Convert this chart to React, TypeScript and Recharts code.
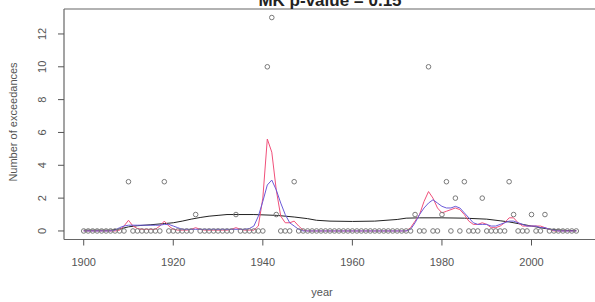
import React from 'react';
import { ComposedChart, Line, XAxis, YAxis, ReferenceLine } from 'recharts';

// years 1900..2010
const years: number[] = Array.from({ length: 111 }, (_, i) => 1900 + i);

// yearly number of exceedances (open circles)
const counts: number[] = [
  0, 0, 0, 0, 0, 0, 0, 0, 0, 0,
  3, 0, 0, 0, 0, 0, 0, 0, 3, 0,
  0, 0, 0, 0, 0, 1, 0, 0, 0, 0,
  0, 0, 0, 0, 1, 0, 0, 0, 0, 0,
  0, 10, 13, 1, 0, 0, 0, 3, 0, 0,
  0, 0, 0, 0, 0, 0, 0, 0, 0, 0,
  0, 0, 0, 0, 0, 0, 0, 0, 0, 0,
  0, 0, 0, 0, 1, 0, 0, 10, 0, 0,
  1, 3, 0, 2, 0, 3, 0, 0, 0, 2,
  0, 0, 0, 0, 0, 3, 1, 0, 0, 0,
  1, 0, 0, 1, 0, 0, 0, 0, 0, 0,
  0,
];

// red running mean
const redLine: number[] = [
  0, 0, 0, 0, 0, 0, 0, 0, 0.05, 0.3,
  0.65, 0.3, 0.15, 0.1, 0.1, 0.1, 0.1, 0.3, 0.6, 0.3,
  0.1, 0.05, 0.05, 0.05, 0.1, 0.2, 0.1, 0.05, 0.05, 0.05,
  0.05, 0.05, 0.05, 0.1, 0.2, 0.1, 0.05, 0.05, 0.05, 0.3,
  2.0, 5.6, 4.8, 2.5, 0.9, 0.5, 0.5, 0.6, 0.3, 0.05,
  0, 0, 0, 0, 0, 0, 0, 0, 0, 0,
  0, 0, 0, 0, 0, 0, 0, 0, 0, 0,
  0, 0, 0, 0.2, 0.6, 1.0, 1.8, 2.4, 2.0, 1.4,
  1.1, 1.2, 1.3, 1.4, 1.3, 1.0, 0.6, 0.4, 0.4, 0.5,
  0.4, 0.2, 0.2, 0.3, 0.5, 0.8, 0.8, 0.5, 0.3, 0.3,
  0.3, 0.3, 0.3, 0.2, 0.1, 0, 0, 0, 0, 0,
  0,
];

// blue smoother
const blueLine: number[] = [
  0, 0, 0, 0, 0, 0, 0, 0.05, 0.2, 0.3,
  0.35, 0.35, 0.35, 0.35, 0.35, 0.35, 0.35, 0.35, 0.4, 0.4,
  0.3, 0.2, 0.1, 0.1, 0.1, 0.1, 0.1, 0.1, 0.1, 0.1,
  0.1, 0.1, 0.1, 0.1, 0.1, 0.1, 0.1, 0.15, 0.3, 0.9,
  1.8, 2.8, 3.1, 2.5, 1.7, 1.0, 0.5, 0.3, 0.1, 0,
  0, 0, 0, 0, 0, 0, 0, 0, 0, 0,
  0, 0, 0, 0, 0, 0, 0, 0, 0, 0,
  0, 0, 0, 0.1, 0.5, 1.0, 1.4, 1.7, 1.9, 1.7,
  1.5, 1.4, 1.4, 1.5, 1.4, 1.1, 0.8, 0.5, 0.4, 0.4,
  0.4, 0.3, 0.3, 0.4, 0.5, 0.6, 0.6, 0.5, 0.4, 0.3,
  0.3, 0.3, 0.2, 0.2, 0.1, 0.05, 0, 0, 0, 0,
  0,
];

// black loess curve, read at a few years
const blackYears: number[] = [
  1900, 1906, 1908, 1910, 1912, 1915, 1918, 1920, 1922, 1924, 1926, 1928, 1930,
  1932, 1938, 1943, 1945, 1947, 1950, 1952, 1955, 1960, 1965, 1970, 1972, 1975,
  1980, 1985, 1990, 1993, 1995, 1998, 2000, 2003, 2005, 2008, 2010,
];
const blackVals: number[] = [
  0.05, 0.05, 0.12, 0.25, 0.32, 0.38, 0.45, 0.5, 0.6, 0.72, 0.82, 0.9, 0.95,
  1.0, 1.0, 0.95, 0.9, 0.85, 0.75, 0.65, 0.6, 0.58, 0.6, 0.7, 0.78, 0.8,
  0.8, 0.78, 0.72, 0.62, 0.55, 0.4, 0.3, 0.15, 0.08, 0.03, 0.02,
];

const xTicks = [1900, 1920, 1940, 1960, 1980, 2000];
const yTicks = [0, 2, 4, 6, 8, 10, 12];
const xDomain = [1895.6, 2014.4];
const yDomain = [-0.52, 13.52];

const data = years.map((year, i) => {
  const k = blackYears.indexOf(year);
  return {
    year,
    count: counts[i],
    red: redLine[i],
    blue: blueLine[i],
    black: k >= 0 ? blackVals[k] : null,
  };
});

const font = '"Liberation Sans", Arial, sans-serif';

const YTick = (props: any) => {
  const { y, payload } = props;
  return (
    <text
      x={42}
      y={y}
      transform={`rotate(-90 42 ${y})`}
      textAnchor="middle"
      dominantBaseline="central"
      fontSize={11}
      fontFamily={font}
      fill="#555"
    >
      {payload.value}
    </text>
  );
};

export default function App() {
  return (
    <div style={{ position: 'absolute', left: 0, top: 0, width: 595, height: 302, overflow: 'hidden', background: '#fff' }}>
      <ComposedChart width={598} height={302} data={data} margin={{ top: 9, right: 2, bottom: 0, left: 0 }}>
        <XAxis
          dataKey="year"
          type="number"
          domain={xDomain}
          ticks={xTicks}
          allowDataOverflow
          axisLine={false}
          tickSize={6}
          tickMargin={13}
          height={62.5}
          tickLine={{ stroke: '#555' }}
          tick={{ fontSize: 11, fontFamily: font, fill: '#555' }}
        />
        <YAxis
          type="number"
          domain={yDomain}
          ticks={yTicks}
          allowDataOverflow
          axisLine={false}
          tickSize={6}
          width={64}
          tickLine={{ stroke: '#555' }}
          tick={<YTick />}
        />
        {/* plot box (right side falls outside the picture) */}
        <ReferenceLine y={yDomain[1]} stroke="#666" strokeWidth={1.2} ifOverflow="visible" />
        <ReferenceLine y={yDomain[0]} stroke="#666" strokeWidth={1.2} ifOverflow="visible" />
        <ReferenceLine x={xDomain[0]} stroke="#666" strokeWidth={1.2} ifOverflow="visible" />
        <Line
          dataKey="count"
          stroke="none"
          isAnimationActive={false}
          activeDot={false}
          dot={{ r: 2.3, stroke: '#7a7a7a', strokeWidth: 1, fill: 'none' }}
        />
        <Line dataKey="black" stroke="#222" strokeWidth={1} dot={false} connectNulls isAnimationActive={false} type="linear" />
        <Line dataKey="red" stroke="#f0507a" strokeWidth={1} dot={false} isAnimationActive={false} type="linear" />
        <Line dataKey="blue" stroke="#6a5ad8" strokeWidth={1} dot={false} isAnimationActive={false} type="linear" />
      </ComposedChart>
      <svg width={595} height={302} style={{ position: 'absolute', left: 0, top: 0, pointerEvents: 'none' }}>
        <text x={330} y={6} textAnchor="middle" fontSize={17} fontWeight="bold" fontFamily={font} fill="#222">
          MK p-value = 0.15
        </text>
        <text x={322} y={296} textAnchor="middle" fontSize={11} fontFamily={font} fill="#555">
          year
        </text>
        <text
          x={13}
          y={122}
          transform="rotate(-90 13 122)"
          textAnchor="middle"
          dominantBaseline="central"
          fontSize={11}
          fontFamily={font}
          fill="#555"
        >
          Number of exceedances
        </text>
      </svg>
    </div>
  );
}
